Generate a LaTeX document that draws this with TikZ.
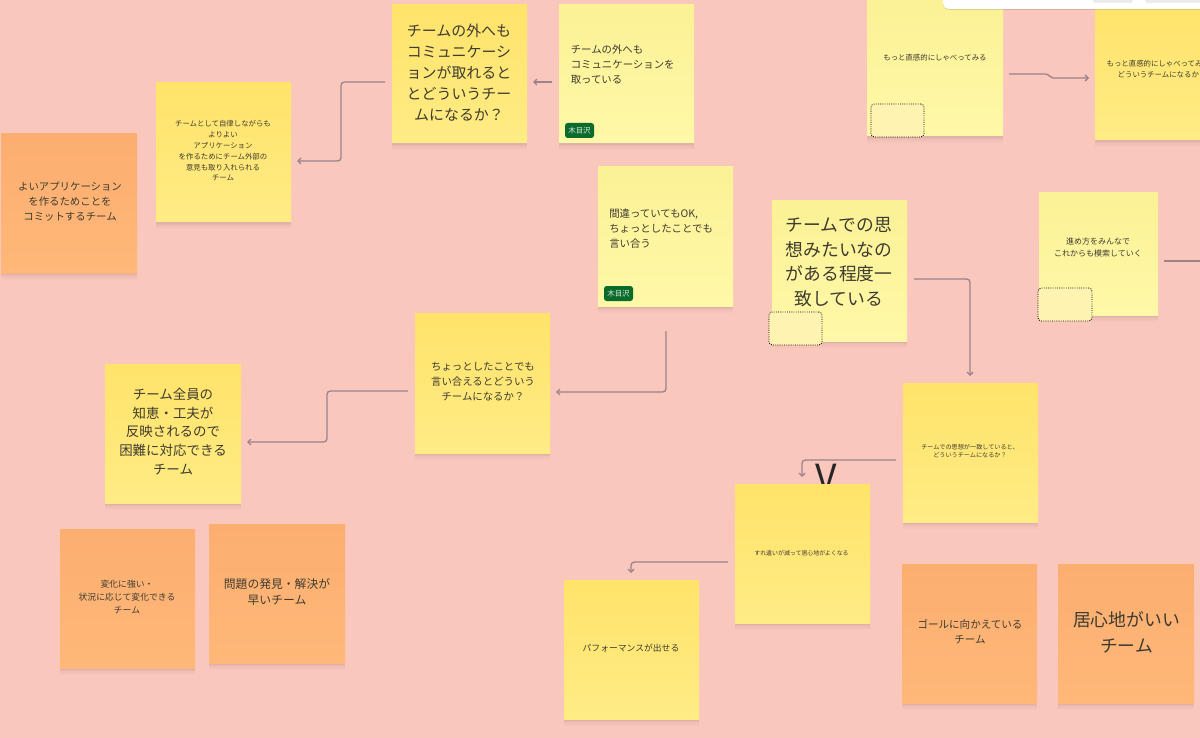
\documentclass[tikz,border=0pt]{standalone}
\usepackage{fontspec}
\setmainfont{Noto Sans CJK JP}
\usetikzlibrary{arrows.meta,shadows}
\definecolor{bgpink}{HTML}{FAC7BD}
\definecolor{inkc}{HTML}{3E3B30}
\definecolor{linec}{HTML}{9C8389}
\definecolor{FBF195}{HTML}{FBF195}
\definecolor{FFF8A8}{HTML}{FFF8A8}
\definecolor{FFE36A}{HTML}{FFE36A}
\definecolor{FFEC85}{HTML}{FFEC85}
\definecolor{FBAE70}{HTML}{FBAE70}
\definecolor{FFB879}{HTML}{FFB879}
\definecolor{slotc}{HTML}{FFF3B2}
\definecolor{tagc}{HTML}{0B6B2B}
\tikzset{
  stickbase/.style={inner sep=0pt,outer sep=0pt,rectangle,
    drop shadow={shadow xshift=0pt,shadow yshift=-5pt,opacity=.018,fill=black},
    drop shadow={shadow xshift=0pt,shadow yshift=-3.8pt,opacity=.022,fill=black},
    drop shadow={shadow xshift=0pt,shadow yshift=-2.6pt,opacity=.026,fill=black},
    drop shadow={shadow xshift=0pt,shadow yshift=-1.4pt,opacity=.03,fill=black}},
  pale/.style={stickbase,top color=FBF195,bottom color=FFF8A8},
  gold/.style={stickbase,top color=FFE36A,bottom color=FFEC85},
  orange/.style={stickbase,top color=FBAE70,bottom color=FFB879},
  txt/.style={text=inkc,inner sep=0pt,align=center},
  txtl/.style={text=inkc,inner sep=0pt,align=left},
  conn/.style={draw=linec,line width=1pt,rounded corners=2.5pt,-{Straight Barb[length=2.2pt,width=4.4pt]}},
  slot/.style={draw=black,densely dotted,line width=.65pt,fill=slotc,rounded corners=2.5pt},
  tagbox/.style={fill=tagc,rounded corners=2pt,inner sep=0pt,text=white!85!tagc,font=\fontsize{5.6}{7}\selectfont}
}
% name, x0, y0, x1, y1, style
\newcommand{\stick}[6]{\node[#6,minimum width={(#4-#2)*0.75pt},minimum height={(#5-#3)*0.75pt}] (#1) at ({(#2+#4)/2},{(#3+#5)/2}) {};}
% name, x, y, size, pitch, text
\newcommand{\lbl}[6]{\node[txt,font=\fontsize{#4}{#5}\selectfont,yshift=-0.75pt] (#1) at (#2,#3) {#6};}
\newcommand{\lbll}[6]{\node[txtl,anchor=west,font=\fontsize{#4}{#5}\selectfont,yshift=-0.75pt] (#1) at (#2,#3) {#6};}
\newcommand{\slotbox}[5]{\node[slot,inner sep=0pt,minimum width={(#4-#2)*0.75pt},minimum height={(#5-#3)*0.75pt}] (#1) at ({(#2+#4)/2},{(#3+#5)/2}) {};}
\newcommand{\tagn}[5]{\node[tagbox,minimum width={(#4-#2)*0.75pt},minimum height={(#5-#3)*0.75pt}] (#1) at ({(#2+#4)/2},{(#3+#5)/2}) {木目沢};}
\begin{document}
\begin{tikzpicture}[x=0.75pt,y=-0.75pt]
\useasboundingbox (0,0) rectangle (1200,738);
\clip (0,0) rectangle (1200,738);
\fill[bgpink] (0,0) rectangle (1200,738);

\stick{a}{1}{134}{137}{273}{orange}
\stick{b}{156}{83}{291}{222}{gold}
\stick{c}{392}{5}{527}{143}{gold}
\stick{d}{559}{5}{694}{143}{pale}
\stick{e}{598}{167}{733}{306}{pale}
\stick{f}{772}{201}{907}{341}{pale}
\stick{g}{867}{-3}{1003}{136}{pale}
\stick{h}{1095}{1}{1230}{140}{gold}
\stick{i}{1039}{193}{1158}{315}{pale}
\stick{j}{415}{313}{550}{453}{gold}
\stick{k}{105}{364}{241}{503}{gold}
\stick{l}{903}{383}{1038}{522}{gold}
\node[text=black!85,font=\fontsize{28}{28}\selectfont,anchor=base,inner sep=0pt] (vmark) at (826.5,491) {V};
\stick{m}{735}{484}{870}{623}{gold}
\stick{n}{564}{580}{699}{719}{gold}
\stick{o}{60}{529}{195}{668}{orange}
\stick{p}{209}{524}{345}{663}{orange}
\stick{q}{902}{564}{1037}{703}{orange}
\stick{r}{1058}{564}{1194}{703}{orange}

\lbl{ta}{70}{201}{7.8}{11.25}{よいアプリケーション\\を作るためことを\\コミットするチーム}
\lbl{tb}{223}{150}{5.55}{8.1}{チームとして自律しながらも\\よりよい\\アプリケーション\\を作るためにチーム外部の\\意見も取り入れられる\\チーム}
\lbl{tc}{459}{72}{11.2}{15.75}{チームの外へも\\コミュニケーシ\\ョンが取れると\\とどういうチー\\ムになるか？}
\lbll{td}{570.5}{64}{7.8}{11.25}{チームの外へも\\コミュニケーションを\\取っている}
\lbll{te}{609}{227.5}{7.8}{11.25}{間違っていてもOK,\\ちょっとしたことでも\\言い合う}
\lbl{tf}{839}{261}{13.35}{18.5}{チームでの思\\想みたいなの\\がある程度一\\致している}
\lbl{tg}{935}{57}{5.55}{8.25}{もっと直感的にしゃべってみる}
\lbl{th}{1162}{68.5}{5.55}{8.25}{もっと直感的にしゃべってみると\\どういうチームになるか？}
\lbl{ti}{1098}{246}{6}{9}{進め方をみんなで\\これからも模索していく}
\lbl{tj}{483}{381}{7.8}{11.25}{ちょっとしたことでも\\言い合えるとどういう\\チームになるか？}
\lbl{tk}{173}{430.5}{10.1}{14}{チーム全員の\\知恵・工夫が\\反映されるので\\困難に対応できる\\チーム}
\lbl{tl}{970}{450}{4.6}{6.3}{チームでの思想が一致していると、\\どういうチームになるか？}
\lbl{tm}{801.5}{552}{4.45}{6.3}{すれ違いが減って居心地がよくなる}
\lbl{tn}{631}{647}{6.6}{9.75}{パフォーマンスが出せる}
\lbl{to}{127}{596}{6.6}{9.75}{変化に強い・\\状況に応じて変化できる\\チーム}
\lbl{tp}{277}{591}{8.85}{12}{問題の発見・解決が\\早いチーム}
\lbl{tq}{970}{631}{7.9}{11.25}{ゴールに向かえている\\チーム}
\lbl{tr}{1126.5}{631.5}{13.35}{19.5}{居心地がいい\\チーム}

\tagn{tagd}{565}{123}{594}{138}
\tagn{tage}{604}{286}{633}{301}
\slotbox{sf}{769}{312}{822}{345}
\slotbox{sg}{871}{104}{924}{137}
\slotbox{si}{1038}{288}{1092}{321}

\coordinate (iout) at (1206,261);
\draw[conn] ([shift={(-7,8)}]d.west) -- ([shift={(6,8)}]c.east);
\draw[conn] ([shift={(-7,8)}]c.west) -- ++(-44,0) -- ++(0,79) -- ([shift={(6,8.5)}]b.east);
\draw[conn] ([shift={(0.5,25)}]e.south) -- ++(0,61) -- ([shift={(6,9)}]j.east);
\draw[conn] ([shift={(-7,8)}]j.west) -- ++(-81,0) -- ++(0,51) -- ([shift={(6,8.5)}]k.east);
\draw[conn] ([shift={(7,8)}]f.east) -- ++(56,0) -- ([shift={(-0.5,-7)}]l.north);
\draw[conn] ([shift={(-7,7.5)}]l.west) -- ++(-94,0) -- ([shift={(-0.5,-7)}]m.north);
\draw[conn] ([shift={(-7,8.5)}]m.west) -- ++(-97,0) -- ([shift={(-0.5,-7)}]n.north);
\draw[conn,rounded corners=1.5pt] ([shift={(6,7.5)}]g.east) -- ++(39,0) -- ++(3,4) -- ([shift={(-6,7.5)}]h.west);
\draw[conn,-] ([shift={(6,7)}]i.east) -- (iout);

% toolbar at the top right
\node[fill=white,rounded corners=4pt,inner sep=0pt,minimum width={265*0.75pt},minimum height={24*0.75pt},
  drop shadow={shadow xshift=0pt,shadow yshift=-.7pt,opacity=.12,fill=black}] (bar) at (1075.5,-3) {};
\node[fill=black!8,rounded corners=2pt,inner sep=0pt,minimum width={40*0.75pt},minimum height={8*0.75pt}] (btna) at (1113,-1) {};
\node[fill=black!8,rounded corners=2pt,inner sep=0pt,minimum width={60*0.75pt},minimum height={8*0.75pt}] (btnb) at (1175,-1) {};
\end{tikzpicture}
\end{document}
